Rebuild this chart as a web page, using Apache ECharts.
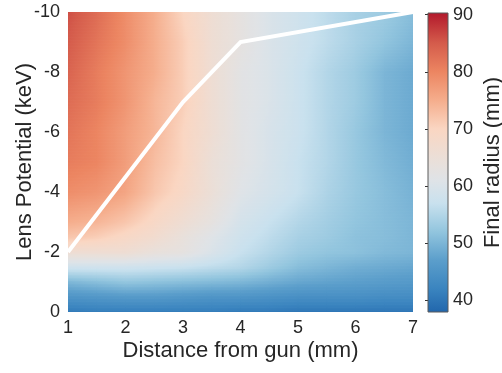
<!DOCTYPE html>
<html>
<head>
<meta charset="utf-8">
<script src="https://cdn.jsdelivr.net/npm/echarts@6/dist/echarts.min.js"></script>
<style>
html, body { margin: 0; padding: 0; background: #ffffff; }
#chart { width: 502px; height: 373px; }
</style>
</head>
<body>
<div id="chart"></div>
<script>
// Grid of measured final radius (mm): columns = distance from gun, rows = lens potential
const distances = [1, 1.5, 2, 2.5, 3, 3.5, 4, 4.5, 5, 5.5, 6, 6.5, 7];
const potentials = [0, -0.5, -1, -1.5, -2, -2.5, -3, -4, -5, -6, -7, -8, -9, -10];
const radius = [
  [40.5, 41, 41, 41, 41, 41, 40.5, 40.5, 40, 40, 40, 40, 40],          // 0
  [45, 45.5, 46, 46, 45.5, 45, 45, 44.5, 44, 44, 44, 43.5, 43.5],      // -0.5
  [50, 51, 52, 51.5, 51, 50.5, 50, 49, 48, 47.5, 47, 46.5, 46],        // -1
  [58, 58, 58, 57.5, 57, 56, 55, 53, 51, 50, 49, 48.5, 48],            // -1.5
  [66, 66, 66, 64, 63, 60, 57, 55, 53, 52, 51.5, 50.5, 50],            // -2
  [72, 71, 69, 67, 64, 61, 58, 56, 54, 53, 51.5, 51, 50],              // -2.5
  [75, 74, 72, 69, 66, 63, 59, 57, 55, 53.5, 52, 51, 50],              // -3
  [79, 78, 76, 72, 69, 65, 61, 59, 57, 54.5, 52.5, 51, 49.5],          // -4
  [81, 80, 77, 73, 70, 65, 62, 59.5, 57, 55, 52.5, 50.5, 49],          // -5
  [82, 80, 77, 74, 70, 66, 62, 59.5, 57.5, 55, 52.5, 50, 48.5],        // -6
  [83, 81, 78, 74, 71, 66, 62, 60, 57.5, 55, 53, 50, 48.5],            // -7
  [84, 81, 78, 75, 71, 66, 62, 60, 57.5, 55, 53, 50, 48.5],            // -8
  [85, 82, 79, 75, 71, 66, 63, 60, 58, 56, 54, 52, 50],                // -9
  [86, 83, 79, 75, 70, 66, 63, 60, 58, 56, 54, 53, 51]                 // -10
];

// Optimal operating path
const pathDistance = [1, 3, 4, 7];
const pathPotential = [-2, -7, -9, -10];

// Axis ticks
const xTicks = [1, 2, 3, 4, 5, 6, 7];
const yTicks = [0, -2, -4, -6, -8, -10];
const barTicks = [40, 50, 60, 70, 80, 90];
const colorMin = 37.9;
const colorMax = 90.3;

// Diverging red-blue colour map (value -> colour)
const palette = [
  [37.9, '#2166ac'], [42, '#3a84bf'], [47, '#5b9ecb'], [52, '#92c5de'],
  [57, '#c9e1ee'], [61, '#dfe3e7'], [64, '#e8e0db'], [70, '#fad6c2'],
  [75, '#f5ad8c'], [80, '#ec8561'], [85, '#d45b4b'], [90.3, '#b2182b']
];

function hexToRgb(h) {
  return [parseInt(h.slice(1, 3), 16), parseInt(h.slice(3, 5), 16), parseInt(h.slice(5, 7), 16)];
}
const paletteRgb = palette.map(p => [p[0], hexToRgb(p[1])]);

function colorOf(v) {
  if (v <= paletteRgb[0][0]) return 'rgb(' + paletteRgb[0][1].join(',') + ')';
  for (let k = 1; k < paletteRgb.length; k++) {
    const a = paletteRgb[k - 1], b = paletteRgb[k];
    if (v <= b[0]) {
      const t = (v - a[0]) / (b[0] - a[0]);
      const c = a[1].map((ch, n) => Math.round(ch + (b[1][n] - ch) * t));
      return 'rgb(' + c.join(',') + ')';
    }
  }
  return 'rgb(' + paletteRgb[paletteRgb.length - 1][1].join(',') + ')';
}

// One item per grid cell: [corner x, corner y, column index, row index]
const cells = [];
for (let j = 0; j < potentials.length - 1; j++) {
  for (let i = 0; i < distances.length - 1; i++) {
    cells.push([distances[i], potentials[j], i, j]);
  }
}

// Smoothly shaded cell (bilinear shading between the four corner values)
function renderCell(params, api) {
  const i = api.value(2), j = api.value(3);
  const pA = api.coord([distances[i], potentials[j]]);
  const pB = api.coord([distances[i + 1], potentials[j + 1]]);
  const left = Math.min(pA[0], pB[0]);
  const right = Math.max(pA[0], pB[0]);
  const v00 = radius[j][i], v10 = radius[j][i + 1];
  const v01 = radius[j + 1][i], v11 = radius[j + 1][i + 1];
  const h = Math.abs(pB[1] - pA[1]);
  const n = Math.max(1, Math.ceil(h / 1.5));
  const K = 10;
  const children = [];
  for (let s = 0; s < n; s++) {
    const t = (s + 0.5) / n;
    const vl = v00 + (v01 - v00) * t;
    const vr = v10 + (v11 - v10) * t;
    const ys = pA[1] + (pB[1] - pA[1]) * s / n;
    const ye = pA[1] + (pB[1] - pA[1]) * (s + 1) / n;
    const stops = [];
    for (let k = 0; k <= K; k++) {
      const u = k / K;
      stops.push({ offset: u, color: colorOf(vl + (vr - vl) * u) });
    }
    children.push({
      type: 'rect',
      silent: true,
      shape: { x: left - 0.3, y: Math.min(ys, ye) - 0.4, width: right - left + 0.8, height: Math.abs(ye - ys) + 0.8 },
      style: { fill: new echarts.graphic.LinearGradient(0, 0, 1, 0, stops) }
    });
  }
  return { type: 'group', children: children };
}

// Colour bar drawn on its own value axis
function renderBar(params, api) {
  const p0 = api.coord([0, colorMin]);
  const p1 = api.coord([1, colorMax]);
  const stops = palette.map(p => ({ offset: (p[0] - colorMin) / (colorMax - colorMin), color: p[1] }));
  return {
    type: 'rect',
    silent: true,
    shape: { x: p0[0], y: p1[1], width: p1[0] - p0[0], height: p0[1] - p1[1] },
    style: { fill: new echarts.graphic.LinearGradient(0, 1, 0, 0, stops), stroke: '#5a5a5a', lineWidth: 1 }
  };
}

const textColor = '#262626';
const fontFamily = '"Liberation Sans", Arial, Helvetica, sans-serif';

const chart = echarts.init(document.getElementById('chart'), null, { renderer: 'canvas' });
chart.setOption({
  animation: false,
  backgroundColor: '#ffffff',
  textStyle: { fontFamily: fontFamily },
  grid: [
    { left: 68, top: 12, width: 345, height: 300, containLabel: false, outerBoundsMode: 'none' },
    { left: 428, top: 13, width: 20, height: 299, containLabel: false, outerBoundsMode: 'none' }
  ],
  xAxis: [
    {
      type: 'value', gridIndex: 0, min: 1, max: 7, interval: 1,
      name: 'Distance from gun (mm)', nameLocation: 'middle', nameGap: 28, nameMoveOverlap: false,
      nameTextStyle: { fontSize: 22, color: textColor, fontFamily: fontFamily },
      axisLine: { show: false }, axisTick: { show: false }, splitLine: { show: false },
      axisLabel: { fontSize: 18, color: textColor, margin: 7, fontFamily: fontFamily, customValues: xTicks }
    },
    { type: 'value', gridIndex: 1, min: 0, max: 1, show: false }
  ],
  yAxis: [
    {
      type: 'value', gridIndex: 0, min: -10, max: 0, interval: 2, inverse: true,
      name: 'Lens Potential (keV)', nameLocation: 'middle', nameGap: 32, nameRotate: 90, nameMoveOverlap: false,
      nameTextStyle: { fontSize: 22, color: textColor, fontFamily: fontFamily },
      axisLine: { show: false }, axisTick: { show: false }, splitLine: { show: false },
      axisLabel: { fontSize: 18, color: textColor, margin: 8, fontFamily: fontFamily, customValues: yTicks }
    },
    {
      type: 'value', gridIndex: 1, min: colorMin, max: colorMax, position: 'right',
      name: 'Final radius (mm)', nameLocation: 'middle', nameGap: 34, nameRotate: 90, nameMoveOverlap: false,
      nameTextStyle: { fontSize: 22, color: textColor, fontFamily: fontFamily },
      axisLine: { show: false }, splitLine: { show: false },
      axisTick: { show: true, inside: true, length: 3, lineStyle: { color: '#333333' }, customValues: barTicks },
      axisLabel: { fontSize: 18, color: textColor, margin: 5, fontFamily: fontFamily, customValues: barTicks }
    }
  ],
  series: [
    {
      type: 'custom', xAxisIndex: 0, yAxisIndex: 0, clip: true,
      encode: { x: 0, y: 1 },
      data: cells,
      renderItem: renderCell,
      z: 1
    },
    {
      type: 'line', xAxisIndex: 0, yAxisIndex: 0,
      data: pathDistance.map((d, k) => [d, pathPotential[k]]),
      symbol: 'none', clip: true,
      lineStyle: { color: '#ffffff', width: 4, join: 'miter' },
      z: 5
    },
    {
      type: 'custom', xAxisIndex: 1, yAxisIndex: 1, clip: false,
      encode: { x: 0, y: 1 },
      data: [[0, colorMin]],
      renderItem: renderBar,
      z: 1
    }
  ]
});
</script>
</body>
</html>
